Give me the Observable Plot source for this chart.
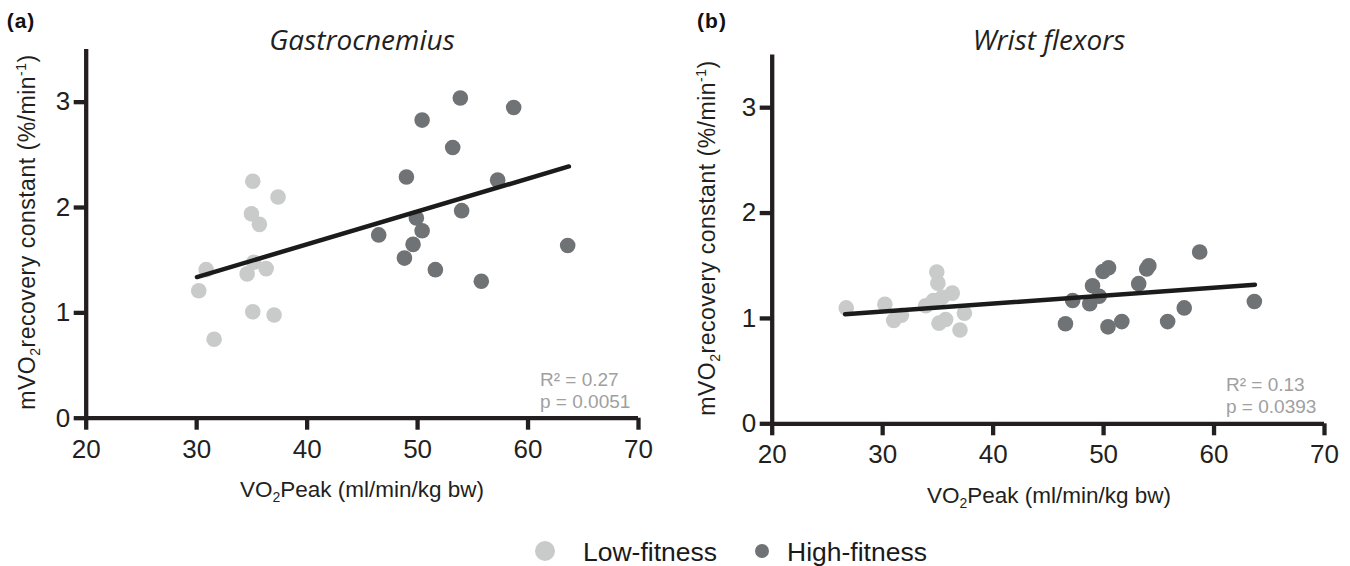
<!DOCTYPE html>
<html><head><meta charset="utf-8">
<script src="https://cdn.jsdelivr.net/npm/d3@7"></script>
<script src="https://cdn.jsdelivr.net/npm/@observablehq/plot@0.6"></script>
<style>
body{margin:0;background:#fff;}
#wrap{position:relative;width:1350px;height:566px;overflow:hidden;background:#fff;}
#wrap > svg{position:absolute;top:0;max-width:none;}
#wrap g[aria-label="x-axis tick"], #wrap g[aria-label="y-axis tick"], #wrap g[aria-label="rule"],
#wrap g[aria-label="x-axis tick"] *, #wrap g[aria-label="y-axis tick"] *, #wrap g[aria-label="rule"] * {stroke-width:4.3px !important;}
#wrap g[aria-label="x-axis tick label"], #wrap g[aria-label="y-axis tick label"] {font-size:26px !important;}
</style></head><body><div id="wrap"></div>
<script>
// ---- data ----
const groups = ["Low-fitness", "High-fitness"];
const groupColors = ["#c9cbca", "#6f7375"];
const xTicks = [20, 30, 40, 50, 60, 70];
const yTicks = [0, 1, 2, 3];
const panelLetters = ["(a)", "(b)"];
const panelTitles = ["Gastrocnemius", "Wrist flexors"];
const statsA = ["R\u00B2 = 0.27", "p = 0.0051"];
const statsB = ["R\u00B2 = 0.13", "p = 0.0393"];

// Panel (a) Gastrocnemius
const aLowX  = [35.08, 37.37, 34.96, 35.68, 35.17, 30.86, 36.29, 34.57, 30.19, 35.08, 37.01, 31.58];
const aLowY  = [2.25, 2.10, 1.94, 1.84, 1.48, 1.41, 1.42, 1.37, 1.21, 1.01, 0.98, 0.75];
const aHighX = [53.87, 58.70, 50.41, 53.18, 48.99, 57.25, 53.99, 49.89, 50.41, 46.48, 49.59, 63.59, 48.81, 51.61, 55.77];
const aHighY = [3.04, 2.95, 2.83, 2.57, 2.29, 2.26, 1.97, 1.90, 1.78, 1.74, 1.65, 1.64, 1.52, 1.41, 1.30];
const aFitX = [30.03, 63.7];
const aFitY = [1.34, 2.39];

// Panel (b) Wrist flexors
const bLowX  = [26.7, 30.2, 31.0, 31.7, 33.9, 34.9, 35.0, 34.6, 35.4, 36.3, 37.4, 35.1, 35.7, 37.0];
const bLowY  = [1.10, 1.135, 0.98, 1.03, 1.12, 1.44, 1.335, 1.17, 1.20, 1.24, 1.05, 0.955, 0.99, 0.89];
const bHighX = [46.55, 47.2, 48.75, 49.0, 49.6, 49.95, 50.45, 50.4, 51.65, 53.18, 53.9, 54.1, 55.8, 57.3, 58.7, 63.65];
const bHighY = [0.95, 1.17, 1.14, 1.31, 1.21, 1.445, 1.48, 0.92, 0.97, 1.33, 1.47, 1.50, 0.97, 1.10, 1.63, 1.16];
const bFitX = [26.6, 63.7];
const bFitY = [1.04, 1.32];

// ---- helpers ----
const ink = "#231f20";
const font = "'Liberation Sans', Arial, Helvetica, sans-serif";
function rows(lx, ly, hx, hy) {
  return [
    ...lx.map((x, i) => ({x, y: ly[i], g: groups[0]})),
    ...hx.map((x, i) => ({x, y: hy[i], g: groups[1]}))
  ];
}
function fitRows(fx, fy) { return fx.map((x, i) => ({x, y: fy[i]})); }

function panel(cfg) {
  const svg = Plot.plot({
    width: cfg.width, height: 520,
    marginLeft: cfg.mL, marginRight: cfg.mR, marginTop: cfg.mT, marginBottom: 520 - cfg.bottom,
    style: {fontFamily: font, color: ink, background: "transparent", overflow: "visible"},
    x: {domain: [20, 70]},
    y: {domain: [0, 3.5]},
    color: {domain: groups, range: groupColors},
    marks: [
      Plot.dot(cfg.data, {x: "x", y: "y", fill: "g", r: 7.8}),
      Plot.line(cfg.fit, {x: "x", y: "y", stroke: "#1b1b1b", strokeWidth: 4.5}),
      Plot.ruleY([0], {x1: 20, x2: 70, stroke: ink, strokeWidth: 4.3}),
      Plot.ruleX([20], {y1: 0, y2: 3.5, stroke: ink, strokeWidth: 4.3}),
      Plot.axisX({ticks: xTicks, tickSize: 12, tickPadding: 9, strokeWidth: 4.3, stroke: ink, fontSize: 26, label: null, tickFormat: d => String(d)}),
      Plot.axisY({ticks: yTicks, tickSize: 12, tickPadding: 4, strokeWidth: 4.3, stroke: ink, fontSize: 26, label: null, tickFormat: d => String(d)}),
      Plot.text([cfg.stats.join("\n")], {frameAnchor: "bottom-right", textAnchor: "start", lineAnchor: "bottom",
        dx: -98.5, dy: -10.5, lineHeight: 1.15, fontSize: 19, fill: "#a0a0a0"})
    ]
  });
  svg.style.left = cfg.left + "px";
  const s = d3.select(svg);
  // panel letter
  s.append("text").attr("x", cfg.letterX).attr("y", 28).attr("font-family", font)
    .attr("font-weight", "bold").attr("font-size", 21).attr("letter-spacing", 1).attr("fill", "#111").text(cfg.letter);
  // title
  s.append("text").attr("x", cfg.cx).attr("y", 50).attr("text-anchor", "middle")
    .attr("font-family", "'Open Sans', 'Noto Sans', sans-serif").attr("font-style", "italic")
    .attr("font-size", 28).attr("fill", ink).text(cfg.title);
  // y label
  const yl = s.append("text").attr("transform", `translate(${cfg.ylx},${cfg.yly}) rotate(-90)`)
    .attr("text-anchor", "middle").attr("font-family", font).attr("font-size", 23)
    .attr("letter-spacing", 0.5).attr("fill", ink);
  yl.append("tspan").text("mVO");
  yl.append("tspan").attr("font-size", 14).attr("dy", 5).text("2");
  yl.append("tspan").attr("dy", -5).text("recovery constant (%/min");
  yl.append("tspan").attr("font-size", 14).attr("dy", -9).text("-1");
  yl.append("tspan").attr("dy", 9).text(")");
  // x label
  const xl = s.append("text").attr("x", cfg.cx).attr("y", cfg.xly).attr("text-anchor", "middle")
    .attr("font-family", font).attr("font-size", 22.5).attr("fill", ink);
  xl.append("tspan").text("VO");
  xl.append("tspan").attr("font-size", 14).attr("dy", 5).text("2");
  xl.append("tspan").attr("dy", -5).text("Peak (ml/min/kg bw)");
  return svg;
}

const wrap = document.getElementById("wrap");
wrap.appendChild(panel({
  left: 0, width: 680, mL: 85.7, mR: 42, mT: 49, bottom: 417.7,
  data: rows(aLowX, aLowY, aHighX, aHighY), fit: fitRows(aFitX, aFitY), stats: statsA,
  letter: panelLetters[0], letterX: 21, title: panelTitles[0], cx: 362, ylx: 35, yly: 232, xly: 497
}));
wrap.appendChild(panel({
  left: 680, width: 670, mL: 91.7, mR: 26, mT: 54.5, bottom: 423.3,
  data: rows(bLowX, bLowY, bHighX, bHighY), fit: fitRows(bFitX, bFitY), stats: statsB,
  letter: panelLetters[1], letterX: 32, title: panelTitles[1], cx: 369, ylx: 35, yly: 238, xly: 503
}));

// legend
const leg = d3.select(wrap).append("svg").attr("width", 1350).attr("height", 46)
  .style("position", "absolute").style("left", "0px").style("top", "520px");
const legItems = [
  {cx: 545, r: 10, tx: 583},
  {cx: 762, r: 7, tx: 787}
];
legItems.forEach((it, i) => {
  leg.append("circle").attr("cx", it.cx).attr("cy", 31).attr("r", it.r).attr("fill", groupColors[i]);
  leg.append("text").attr("x", it.tx).attr("y", 41).attr("font-family", font).attr("font-size", 26.5)
    .attr("fill", "#1a1a1a").text(groups[i]);
});
</script>
</body></html>
